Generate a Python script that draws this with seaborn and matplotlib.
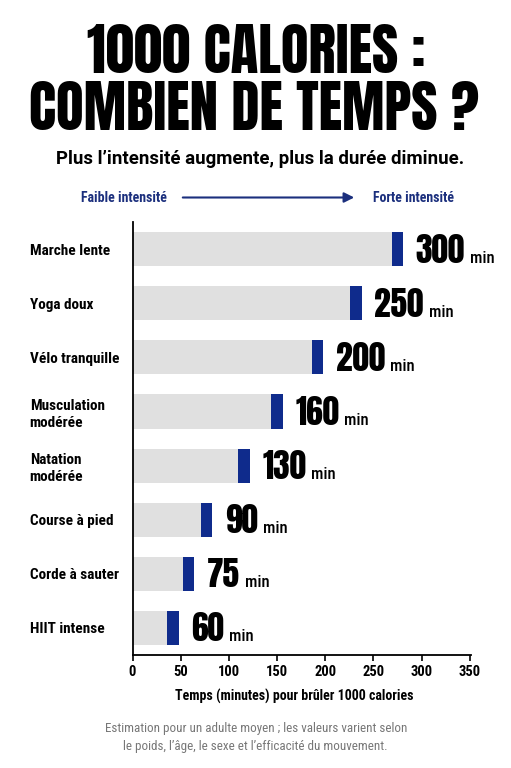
import matplotlib
matplotlib.use("Agg")
import matplotlib.pyplot as plt
import seaborn as sns
import numpy as np

categories = ["Marche lente", "Yoga doux", "Vélo tranquille", "Musculation\nmodérée",
              "Natation\nmodérée", "Course à pied", "Corde à sauter", "HIIT intense"]
bar_lengths = [281, 238, 198, 156, 122, 83, 64, 48]
value_labels = ["300", "250", "200", "160", "130", "90", "75", "60"]
x_ticks = [0, 50, 100, 150, 200, 250, 300, 350]

TITLE_F = ["Anton", "Oswald", "DejaVu Sans"]
COND_F = ["Roboto Condensed", "Liberation Sans Narrow", "DejaVu Sans"]
SUB_F = ["Roboto", "Liberation Sans", "DejaVu Sans"]

sns.set_theme(style="white")
plt.rcParams['font.family'] = COND_F
plt.rcParams['text.color'] = "black"
plt.rcParams['xtick.color'] = "black"
plt.rcParams['ytick.color'] = "black"

GRAY = "#e0e0e0"
BLUE = "#0f2b8c"
NAVY = "#1b2f7d"

fig = plt.figure(figsize=(5.11, 7.68), dpi=100)
fig.patch.set_facecolor("white")
ax = fig.add_axes([0.2593, 0.1471, 0.6618, 0.5638])

sns.barplot(x=bar_lengths, y=categories, color=GRAY, width=0.63, linewidth=0,
            saturation=1, ax=ax, orient="h")
cap = 12
pos = np.arange(len(categories))
ax.barh(pos, [cap] * len(pos), left=np.array(bar_lengths) - cap, height=0.63,
        color=BLUE, linewidth=0)

for i, (L, lab) in enumerate(zip(bar_lengths, value_labels)):
    t = ax.text(L + 13, i + 0.25, lab, fontsize=24, family=TITLE_F,
                va="baseline", ha="left", color="black")
    ax.annotate("min", xy=(1, i + 0.25), xycoords=(t, "data"), xytext=(3.5, 0),
                textcoords="offset points", fontsize=12, family=COND_F,
                fontweight="medium", va="baseline", ha="left", color="black")

ax.set_xlim(0, 351)
ax.set_ylim(7.5, -0.5)
ax.set_xticks(x_ticks)
ax.set_xticklabels([str(v) for v in x_ticks], fontsize=10.5, fontweight="bold")
ax.set_ylabel("")
ax.set_xlabel("")
for lab in ax.get_yticklabels():
    lab.set_ha("left")
    lab.set_multialignment("left")
    lab.set_fontsize(11)
    lab.set_fontweight("bold")
    lab.set_linespacing(1.25)
ax.tick_params(axis="y", length=0, pad=74)
ax.tick_params(axis="x", length=4, width=1.2, color="black", pad=3, direction="out")
ax.xaxis.set_ticks_position("bottom")
sns.despine(ax=ax, top=True, right=True)
for s in ["left", "bottom"]:
    ax.spines[s].set_color("black")
    ax.spines[s].set_linewidth(1.3)

fig.text(294 / 511, 1 - 701 / 768, "Temps (minutes) pour brûler 1000 calories",
         ha="center", va="baseline", fontsize=10, fontweight="bold")

fig.text(0.502, 1 - 73 / 768, "1000 CALORIES :", ha="center", va="baseline",
         fontsize=41, family=TITLE_F)
fig.text(0.497, 1 - 130 / 768, "COMBIEN DE TEMPS ?", ha="center", va="baseline",
         fontsize=41, family=TITLE_F)
fig.text(260 / 511, 1 - 164 / 768, "Plus l’intensité augmente, plus la durée diminue.",
         ha="center", va="baseline", fontsize=13.4, fontweight="bold", family=SUB_F)

fig.text(81 / 511, 1 - 201.5 / 768, "Faible intensité", ha="left", va="baseline",
         fontsize=10, fontweight="semibold", color=NAVY)
fig.text(454 / 511, 1 - 201.5 / 768, "Forte intensité", ha="right", va="baseline",
         fontsize=10, fontweight="semibold", color=NAVY)
fig.add_artist(matplotlib.patches.FancyArrowPatch(
    (180 / 511, 1 - 197.5 / 768), (357 / 511, 1 - 197.5 / 768),
    transform=fig.transFigure, arrowstyle="-|>", mutation_scale=15,
    color=NAVY, lw=1.5))

fig.text(0.502, 1 - 732 / 768, "Estimation pour un adulte moyen ; les valeurs varient selon",
         ha="center", va="baseline", fontsize=9.4, color="#777777")
fig.text(0.5, 1 - 750 / 768, "le poids, l’âge, le sexe et l’efficacité du mouvement.",
         ha="center", va="baseline", fontsize=9.4, color="#777777")

fig.savefig("out.png", dpi=100, facecolor="white")
